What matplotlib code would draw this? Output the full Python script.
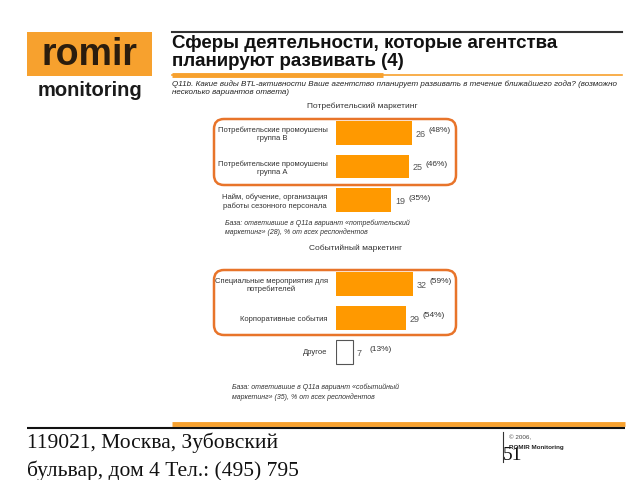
import matplotlib
matplotlib.use("Agg")
import matplotlib.pyplot as plt
from matplotlib.patches import FancyBboxPatch, Rectangle

plt.rcParams['font.family'] = ['Liberation Sans', 'DejaVu Sans']

# --- данные ---
cons_labels = ["Потребительские промоушены\nгруппа В",
               "Потребительские промоушены\nгруппа А",
               "Найм, обучение, организация\nработы сезонного персонала"]
cons_values = [26, 25, 19]
cons_pct = [48, 46, 35]

event_labels = ["Специальные мероприятия для\nпотребителей",
                "Корпоративные события",
                "Другое"]
event_values = [32, 29, 7]
event_pct = [59, 54, 13]

W, H = 640, 480
ORANGE = "#FF9900"
LOGO = "#F7A12E"
RING = "#E8742A"
TXT = "#333333"

fig = plt.figure(figsize=(6.4, 4.8), dpi=100)

# фон/оформление в пиксельных координатах
deco = fig.add_axes([0, 0, 1, 1])
deco.set_xlim(0, W)
deco.set_ylim(H, 0)
deco.axis('off')

# логотип
deco.add_patch(Rectangle((27, 32), 125, 44, color=LOGO, lw=0))
deco.text(89, 55, "romir", fontsize=27, fontweight='bold', color="#2B1D0E",
          ha='center', va='center')
deco.text(90, 90, "monitoring", fontsize=14.5, fontweight='bold', color="#1a1a1a",
          ha='center', va='center')

# заголовок
deco.plot([172, 622], [32, 32], color="#333333", lw=1.5)
deco.text(172, 44, "Сферы деятельности, которые агентства", fontsize=13.5,
          fontweight='bold', color="#111111", va='center')
deco.text(172, 62, "планируют развивать (4)", fontsize=13.5,
          fontweight='bold', color="#111111", va='center')
deco.plot([172, 622], [75, 75], color=LOGO, lw=1.2)
deco.plot([172, 383], [75, 75], color=LOGO, lw=3.5, solid_capstyle='butt')

deco.text(172, 84, "Q11b. Какие виды BTL-активности Ваше агентство планирует развивать "
          "в течение ближайшего года? (возможно", fontsize=5.8, style='italic',
          color="#222222", va='center')
deco.text(172, 93, "несколько вариантов ответа)", fontsize=5.8, style='italic',
          color="#222222", va='center')

# рамки вокруг выделенных групп
for y0, y1 in [(119, 185), (270, 335)]:
    deco.add_patch(FancyBboxPatch((214, y0), 242, y1 - y0,
                                  boxstyle="round,pad=0,rounding_size=10",
                                  fc='none', ec=RING, lw=1.8))

# подписи блоков
deco.text(362, 106, "Потребительский маркетинг", fontsize=6, color=TXT,
          ha='center', va='center')
deco.text(356, 248, "Событийный маркетинг", fontsize=6, color=TXT,
          ha='center', va='center')

deco.text(225, 223, "База: ответившие в Q11a вариант «потребительский", fontsize=5,
          style='italic', color=TXT, va='center')
deco.text(225, 232, "маркетинг» (28), % от всех респондентов", fontsize=5,
          style='italic', color=TXT, va='center')
deco.text(232, 387, "База: ответившие в Q11a вариант «событийный", fontsize=5,
          style='italic', color=TXT, va='center')
deco.text(232, 397, "маркетинг» (35), % от всех респондентов", fontsize=5,
          style='italic', color=TXT, va='center')

# нижний колонтитул
deco.plot([172, 625], [424, 424], color=LOGO, lw=3.5, solid_capstyle='butt')
deco.plot([27, 625], [428, 428], color="#111111", lw=1.5, solid_capstyle='butt')
deco.text(27, 443, "119021, Москва, Зубовский", fontsize=15.5, family='Liberation Serif',
          color="#111111", va='center')
deco.text(27, 471, "бульвар, дом 4 Тел.: (495) 795", fontsize=15.5,
          family='Liberation Serif', color="#111111", va='center')
deco.plot([503, 503], [432, 462], color="#333333", lw=0.8)
deco.text(503, 455, "51", fontsize=14, family='Liberation Serif', color="#111111",
          va='center')
deco.text(509, 438, "© 2006,", fontsize=4.5, color="#444444", va='center')
deco.text(509, 448, "ROMIR Monitoring", fontsize=4.5, fontweight='bold',
          color="#222222", va='center')


def bar_block(top, bottom, scale, labels, values, pct, fills):
    ax = fig.add_axes([336 / W, 1 - bottom / H, 120 / W, (bottom - top) / H])
    ax.patch.set_alpha(0)
    pos = list(range(len(values)))
    ax.barh(pos, values, height=0.71, color=fills,
            edgecolor=['none' if f != 'white' else '#555555' for f in fills], lw=0.8)
    ax.set_xlim(0, 120 / scale)
    ax.set_ylim(len(values) - 0.5, -0.5)
    ax.set_yticks(pos)
    ax.set_yticklabels(labels, fontsize=5.5, color=TXT, multialignment='center')
    ax.tick_params(axis='y', length=0, pad=6)
    ax.set_xticks([])
    for s in ax.spines.values():
        s.set_visible(False)
    for i, (v, p) in enumerate(zip(values, pct)):
        ax.annotate(str(v), (v, i), xytext=(2.5, -1), textcoords='offset points',
                    fontsize=6.5, color="#555555", ha='left', va='center')
        ax.annotate(f"({p}%)", (v, i), xytext=(12, 1.5), textcoords='offset points',
                    fontsize=6, color=TXT, ha='left', va='center')
    return ax


bar_block(116, 217, 2.92, cons_labels, cons_values, cons_pct, [ORANGE] * 3)
bar_block(267, 369, 2.4, event_labels, event_values, event_pct,
          [ORANGE, ORANGE, 'white'])

fig.savefig("out.png", dpi=100)
